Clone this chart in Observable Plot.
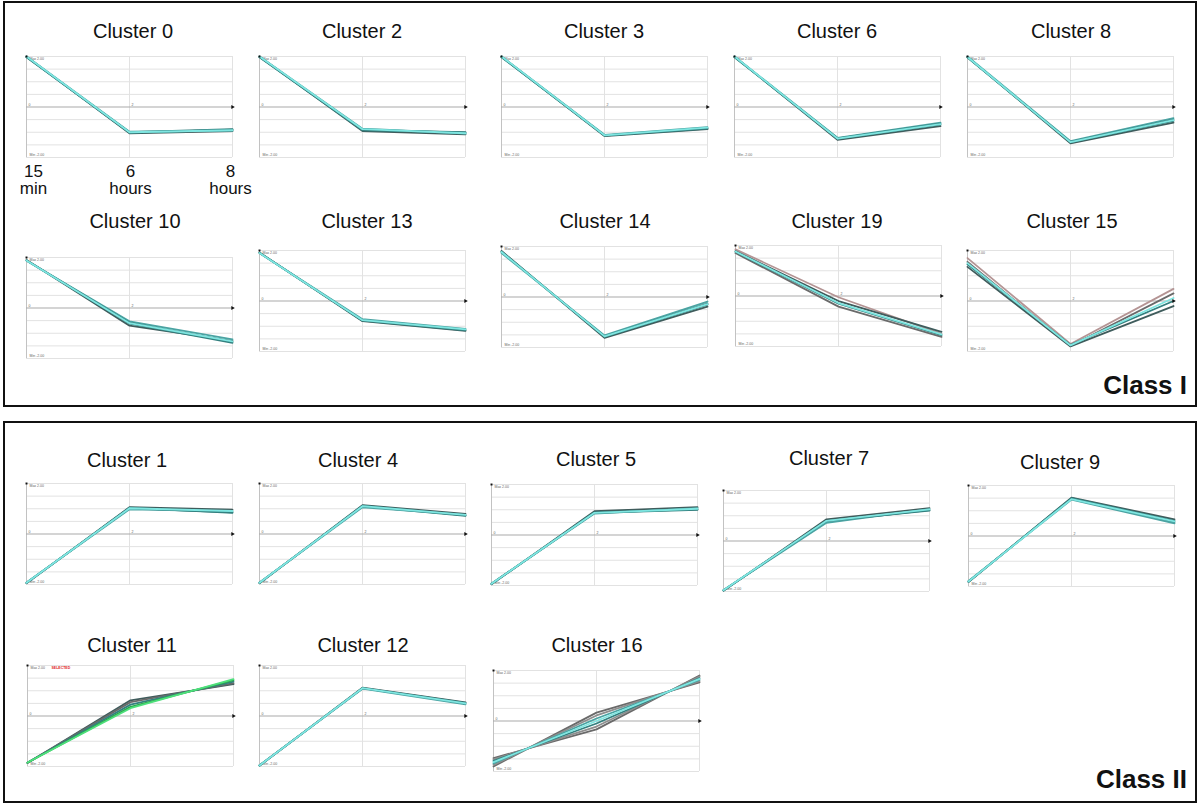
<!DOCTYPE html>
<html>
<head>
<meta charset="utf-8">
<script src="https://cdn.jsdelivr.net/npm/d3@7"></script>
<script src="https://cdn.jsdelivr.net/npm/@observablehq/plot@0.6"></script>
<style>
  html, body { margin: 0; padding: 0; background: #fff; }
  #root { position: relative; width: 1200px; height: 807px; overflow: hidden; font-family: "Liberation Sans", Arial, sans-serif; background: #fff; }
  .box { position: absolute; border: 2px solid #111; box-sizing: border-box; }
  .title { position: absolute; font-size: 20px; color: #111; transform: translateX(-50%); white-space: nowrap; line-height: 1; }
  .cls { position: absolute; font-size: 26px; font-weight: bold; color: #111; white-space: nowrap; line-height: 1; }
  .panel { position: absolute; }
</style>
</head>
<body>
<div id="root"></div>
<script>
// ---------------- DATA ----------------
const timeLabels = ["15\nmin", "6\nhours", "8\nhours"];
const gridY = [-2, -1.5, -1, -0.5, 0.5, 1, 1.5, 2];

// Expression profiles [15 min, 6 hours, 8 hours], log-ratio scale -2..2
const c0  = [[2.00,-1.04,-0.95],[1.98,-1.02,-0.90],[2.00,-0.98,-0.93],[1.97,-1.00,-0.88],[2.00,-1.00,-0.92]];
const c2  = [[2.00,-0.95,-1.08],[1.98,-0.90,-1.02],[2.00,-0.86,-1.05],[1.97,-0.92,-1.00],[2.00,-0.88,-1.04]];
const c3  = [[2.00,-1.15,-0.88],[1.98,-1.12,-0.84],[2.00,-1.10,-0.80],[1.97,-1.13,-0.86],[2.00,-1.12,-0.82]];
const c6  = [[2.00,-1.30,-0.76],[1.98,-1.26,-0.70],[2.00,-1.22,-0.62],[1.97,-1.24,-0.66],[2.00,-1.25,-0.68]];
const c8  = [[1.98,-1.44,-0.62],[1.97,-1.40,-0.55],[2.00,-1.35,-0.44],[1.96,-1.38,-0.50],[1.98,-1.39,-0.52]];
const c10 = [[1.90,-0.70,-1.30],[1.88,-0.62,-1.38],[1.87,-0.53,-1.24],[1.89,-0.58,-1.34],[1.88,-0.60,-1.32]];
const c13 = [[1.92,-0.80,-1.18],[1.90,-0.76,-1.14],[1.90,-0.72,-1.10],[1.91,-0.78,-1.16],[1.90,-0.76,-1.12]];
const c14 = [[1.82,-1.62,-0.38],[1.78,-1.58,-0.30],[1.74,-1.52,-0.18],[1.80,-1.56,-0.26],[1.78,-1.56,-0.28]];
const c19 = [[1.85,-0.05,-1.50],[1.78,-0.20,-1.42],[1.70,-0.42,-1.62],[1.75,-0.30,-1.55],[1.76,-0.28,-1.52]];
const c15 = [[1.70,-1.70,0.48],[1.55,-1.78,0.30],[1.35,-1.80,-0.20],[1.45,-1.74,0.00],[1.50,-1.76,0.12]];

const c1  = [[-1.95,1.06,0.96],[-1.93,1.02,0.86],[-1.92,0.98,0.90],[-1.94,1.04,0.84],[-1.93,1.02,0.91]];
const c4  = [[-1.95,1.14,0.80],[-1.93,1.10,0.72],[-1.92,1.06,0.76],[-1.94,1.12,0.74],[-1.93,1.10,0.76]];
const c5  = [[-1.95,0.94,1.10],[-1.93,0.90,1.02],[-1.92,0.85,1.06],[-1.94,0.88,1.00],[-1.93,0.88,1.04]];
const c7  = [[-1.97,0.86,1.30],[-1.95,0.78,1.22],[-1.94,0.72,1.26],[-1.96,0.80,1.20],[-1.95,0.80,1.25]];
const c9  = [[-1.82,1.52,0.66],[-1.80,1.48,0.55],[-1.78,1.44,0.50],[-1.81,1.50,0.60],[-1.80,1.46,0.58]];
const c11 = [[-1.86,0.62,1.26],[-1.85,0.55,1.30],[-1.84,0.45,1.36],[-1.85,0.36,1.42],[-1.84,0.31,1.46]];
const c12 = [[-1.97,1.12,0.54],[-1.96,1.10,0.50],[-1.95,1.08,0.46],[-1.96,1.10,0.52],[-1.96,1.10,0.50]];
const c16 = [[-1.47,-0.33,1.80],[-1.80,0.33,1.53],[-1.52,-0.22,1.76],[-1.74,0.22,1.58],[-1.58,-0.10,1.70],[-1.68,0.10,1.63],[-1.63,0.00,1.67]];

const defaultTones = ["dark","teal","mid","teal","cyan"];
const tones19 = ["rose","dark","gray","teal","cyan"];
const tones15 = ["rose","gray","dark","teal","cyan"];
const tones11 = ["dark","gray","teal","green","lime"];
const tones16 = ["gray","gray","gray2","gray2","teal","mid","cyan"];

const classINames  = ["Cluster 0","Cluster 2","Cluster 3","Cluster 6","Cluster 8","Cluster 10","Cluster 13","Cluster 14","Cluster 19","Cluster 15"];
const classIData   = [c0,c2,c3,c6,c8,c10,c13,c14,c19,c15];
const classITones  = [defaultTones,defaultTones,defaultTones,defaultTones,defaultTones,defaultTones,defaultTones,defaultTones,tones19,tones15];
const classIINames = ["Cluster 1","Cluster 4","Cluster 5","Cluster 7","Cluster 9","Cluster 11","Cluster 12","Cluster 16"];
const classIIData  = [c1,c4,c5,c7,c9,c11,c12,c16];
const classIITones = [defaultTones,defaultTones,defaultTones,defaultTones,defaultTones,tones11,defaultTones,tones16];
const classLabels = ["Class I","Class II"];

// ---------------- STYLE / LAYOUT ----------------
const toneColor = {
  dark: "#3f5c5c", teal: "#33807f", mid: "#4aa3a2", cyan: "#7fe6e1",
  gray: "#6a6a6a", gray2: "#8e8e8e", rose: "#b49494", green: "#2aa84a", lime: "#4ee07c"
};
const W = 206, H = 101, ML = 5, MR = 7, MT = 4, MB = 3;
// [plot left, plot top, title center x, title baseline y]
const posI = [
  [26,56,133,39],[259,56,362,39],[501,56,604,39],[734,56,837,39],[967,56,1071,39],
  [26,257,135,229],[259,250,367,229],[501,246,605,229],[735,245,837,229],[967,250,1072,229]
];
const posII = [
  [26,483,127,468],[259,483,358,468],[491,484,596,467],[723,490,829,466],[968,485,1060,470],
  [27,665,132,653],[259,665,363,653],[493,670,597,653]
];
const timeLabelShift = [7, 1, -2];

const root = document.getElementById("root");

function addBox(l, t, w, h) {
  const d = document.createElement("div");
  d.className = "box";
  Object.assign(d.style, {left: l + "px", top: t + "px", width: w + "px", height: h + "px"});
  root.appendChild(d);
}
function addText(cls, txt, x, baseline, size, anchorRight) {
  const d = document.createElement("div");
  d.className = cls;
  d.textContent = txt;
  d.style.top = (baseline - 0.86 * size) + "px";
  if (anchorRight) { d.style.right = (1200 - x) + "px"; }
  else d.style.left = x + "px";
  root.appendChild(d);
}

function makePanel(profiles, tones, showTimes, selected) {
  const rows = profiles.flatMap((p, i) => p.map((v, j) => ({t: j, v, id: i, c: toneColor[tones[i]]})));
  const marks = [
    Plot.ruleY(gridY, {stroke: "#e2e2e2", strokeWidth: 1}),
    Plot.ruleX([1, 2], {stroke: "#e2e2e2", strokeWidth: 1}),
    Plot.ruleX([0], {stroke: "#c2c2c2", strokeWidth: 1}),
    Plot.ruleY([0], {stroke: "#aaaaaa", strokeWidth: 1.2}),
    Plot.text(["Max 2.00"], {x: 0, y: 2, text: d => d, dx: 3, dy: 2.5, fontSize: 3.5, textAnchor: "start", fill: "#666"}),
    Plot.text(["Min -2.00"], {x: 0, y: -2, text: d => d, dx: 3, dy: -2.5, fontSize: 3.5, textAnchor: "start", fill: "#666"}),
    Plot.text(["0"], {x: 0, y: 0, text: d => d, dx: 2, dy: -2.5, fontSize: 3.5, textAnchor: "start", fill: "#666"}),
    Plot.text(["2"], {x: 1, y: 0, text: d => d, dx: 2, dy: -2.5, fontSize: 3.5, textAnchor: "start", fill: "#666"}),
    Plot.line(rows, {x: "t", y: "v", z: "id", stroke: "c", strokeWidth: 1.8, strokeLinejoin: "round"}),
    Plot.dot([0], {x: 2, y: 0, symbol: "triangle", r: 1.5, fill: "#111", stroke: null, rotate: 90}),
    Plot.dot([0], {x: 0, y: 2, symbol: "square", r: 1.1, fill: "#111", stroke: null})
  ];
  if (selected) {
    marks.push(Plot.text([selected], {x: 0, y: 2, text: d => d, dx: 24, dy: 2.5, fontSize: 3.5, textAnchor: "start", fill: "#e0201a", fontWeight: "bold"}));
  }
  if (showTimes) {
    timeLabels.forEach((lab, i) => {
      marks.push(Plot.text([lab], {x: i, y: -2, text: d => d, dx: timeLabelShift[i], dy: 23, fontSize: 17, lineHeight: 1, fill: "#111", textAnchor: "middle"}));
    });
  }
  return Plot.plot({
    width: W + ML + MR, height: H + MT + MB,
    marginLeft: ML, marginRight: MR, marginTop: MT, marginBottom: MB,
    x: {domain: [0, 2], axis: null},
    y: {domain: [-2, 2], axis: null},
    color: {type: "identity"},
    style: {overflow: "visible", background: "transparent", fontFamily: "'Liberation Sans', Arial, sans-serif"},
    marks
  });
}

function addPanel(name, profiles, tones, pos, showTimes, selected) {
  const [px, py, tx, ty] = pos;
  const div = document.createElement("div");
  div.className = "panel";
  div.style.left = (px - ML) + "px";
  div.style.top = (py - MT) + "px";
  div.appendChild(makePanel(profiles, tones, showTimes, selected));
  root.appendChild(div);
  const t = document.createElement("div");
  t.className = "title";
  t.textContent = name;
  t.style.left = tx + "px";
  t.style.top = (ty - 0.88 * 20) + "px";
  root.appendChild(t);
}

// boxes
addBox(3, 1, 1194, 406);
addBox(3, 421, 1194, 382);

classINames.forEach((n, i) => addPanel(n, classIData[i], classITones[i], posI[i], i === 0, null));
classIINames.forEach((n, i) => addPanel(n, classIIData[i], classIITones[i], posII[i], false, n === "Cluster 11" ? "SELECTED" : null));

addText("cls", classLabels[0], 1187, 394, 26, true);
addText("cls", classLabels[1], 1187, 788, 26, true);
</script>
</body>
</html>
